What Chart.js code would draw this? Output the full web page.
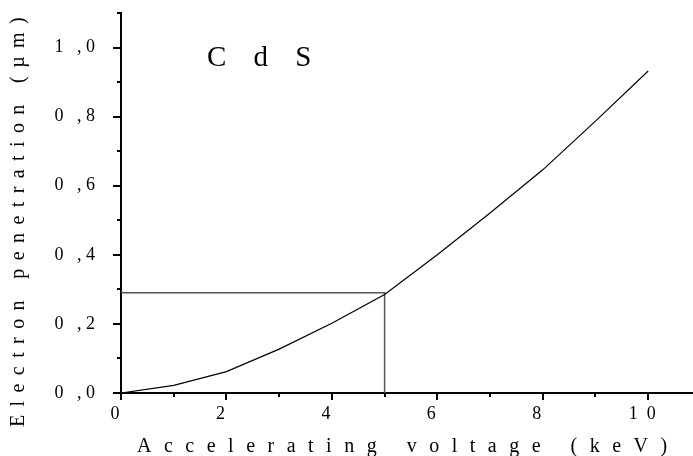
<!DOCTYPE html>
<html>
<head>
<meta charset="utf-8">
<script src="https://cdn.jsdelivr.net/npm/chart.js@4.4.0/dist/chart.umd.min.js"></script>
<style>
    html, body { margin: 0; padding: 0; background: #fff; }
</style>
</head>
<body>
<canvas id="myChart" width="693" height="456"></canvas>
<script>

// electron penetration in CdS vs accelerating voltage
let voltage = [0, 1, 2, 3, 4, 5, 6, 7, 8, 9, 10];
let penetration = [0, 0.022, 0.062, 0.127, 0.202, 0.285, 0.400, 0.521, 0.646, 0.787, 0.932];

// guide lines at 5 keV
let guideX = [0, 5, 5];
let guideY = [0.29, 0.29, 0];

// ticks (empty label = minor tick)
let xTicks = [0, 1, 2, 3, 4, 5, 6, 7, 8, 9, 10];
let xTickLabels = ['0', '', '2', '', '4', '', '6', '', '8', '', '1  0'];
let yTicks = [0, 0.1, 0.2, 0.3, 0.4, 0.5, 0.6, 0.7, 0.8, 0.9, 1.0, 1.1];
let yTickLabels = ['0   , 0', '', '0   , 2', '', '0   , 4', '', '0   , 6', '', '0   , 8', '', '1   , 0', ''];

let xTitle = 'Accelerating voltage (keV)';
let yTitle = 'Electron penetration (µm)';
let material = 'C d S';

const serif = '"Liberation Serif", "Times New Roman", serif';

// tick marks, titles and the material label
const extras = {
    id: 'extras',
    afterDraw(chart) {
        const ctx = chart.ctx;
        const xs = chart.scales.x;
        const ys = chart.scales.y;
        const area = chart.chartArea;

        ctx.save();
        ctx.strokeStyle = '#000';
        ctx.lineWidth = 2;
        ctx.beginPath();
        xTicks.forEach((v, i) => {
            const px = Math.round(xs.getPixelForValue(v));
            const len = xTickLabels[i] ? 7 : 4;
            ctx.moveTo(px, area.bottom);
            ctx.lineTo(px, area.bottom + len);
        });
        yTicks.forEach((v, i) => {
            const py = Math.round(ys.getPixelForValue(v));
            const len = yTickLabels[i] ? 8 : 4;
            ctx.moveTo(area.left, py);
            ctx.lineTo(area.left - len, py);
        });
        ctx.stroke();

        ctx.fillStyle = '#000';
        ctx.textAlign = 'left';
        ctx.textBaseline = 'alphabetic';

        ctx.font = '29px ' + serif;
        ctx.letterSpacing = '10px';
        ctx.fillText(material, xs.getPixelForValue(1.63), ys.getPixelForValue(0.947));

        ctx.font = '20px ' + serif;
        ctx.letterSpacing = '12.5px';
        ctx.fillText(xTitle, 137, 452);

        ctx.translate(24, 427);
        ctx.rotate(-Math.PI / 2);
        ctx.letterSpacing = '8.4px';
        ctx.fillText(yTitle, 0, 0);
        ctx.restore();
    }
};

const myChart = document.getElementById('myChart').getContext('2d');

const chart = new Chart(myChart, {

    type: 'scatter',
    data: {
        datasets: [
            {
                data: voltage.map((v, i) => ({ x: v, y: penetration[i] })),
                borderColor: '#000',
                borderWidth: 1.2,
                pointRadius: 0,
                showLine: true,
                fill: false
            },
            {
                data: guideX.map((v, i) => ({ x: v, y: guideY[i] })),
                borderColor: '#555',
                borderWidth: 1.5,
                pointRadius: 0,
                showLine: true,
                fill: false
            }
        ]
    },
    options: {
        responsive: false,
        animation: false,
        devicePixelRatio: 1,
        layout: { padding: { top: 13, right: 0, left: 0, bottom: 0 } },
        plugins: {
            legend: { display: false },
            tooltip: { enabled: false }
        },
        scales: {
            x: {
                type: 'linear',
                min: 0,
                max: 10.85,
                afterBuildTicks: s => { s.ticks = xTicks.map(v => ({ value: v })); },
                afterFit: s => { s.height = 63; s.paddingLeft = 0; s.paddingRight = 0; },
                border: { display: true, color: '#000', width: 2 },
                grid: { drawOnChartArea: false, drawTicks: true, tickLength: 7, color: 'rgba(0,0,0,0)' },
                ticks: {
                    autoSkip: false,
                    maxRotation: 0,
                    padding: 3,
                    labelOffset: -6,
                    color: '#000',
                    font: { family: serif, size: 18 },
                    callback: (v, i) => xTickLabels[i]
                }
            },
            y: {
                type: 'linear',
                min: 0,
                max: 1.1,
                afterBuildTicks: s => { s.ticks = yTicks.map(v => ({ value: v })); },
                afterFit: s => { s.width = 121; s.paddingTop = 0; s.paddingBottom = 0; },
                border: { display: true, color: '#000', width: 2 },
                grid: { drawOnChartArea: false, drawTicks: true, tickLength: 8, color: 'rgba(0,0,0,0)' },
                ticks: {
                    autoSkip: false,
                    padding: 18,
                    color: '#000',
                    font: { family: serif, size: 18 },
                    callback: (v, i) => yTickLabels[i]
                }
            }
        }
    },
    plugins: [extras]

});

</script>
</body>
</html>
